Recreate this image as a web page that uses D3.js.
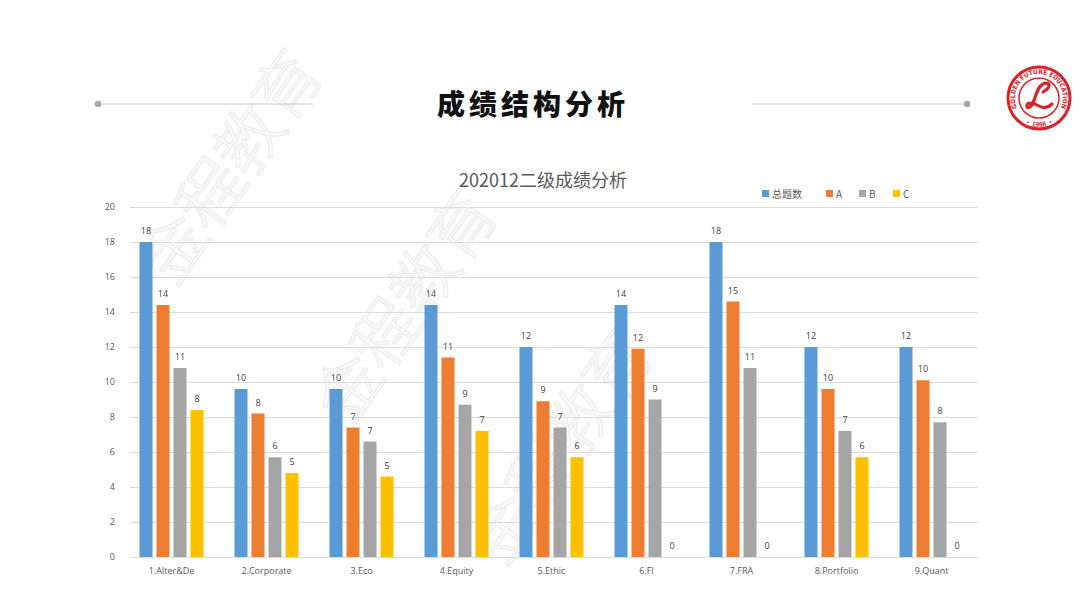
<!DOCTYPE html>
<html>
<head>
<meta charset="utf-8">
<script src="https://cdn.jsdelivr.net/npm/d3@7"></script>
<style>
    body { margin: 0; background: #fff; }
    svg { display: block; font-family: "Noto Sans CJK SC", "Open Sans", sans-serif; }
</style>
</head>
<body>
<div id="chart"></div>
<script>
// chart data
var categories = ["1.Alter&De", "2.Corporate", "3.Eco", "4.Equity", "5.Ethic", "6.FI", "7.FRA", "8.Portfolio", "9.Quant"];
var seriesNames = ["总题数", "A", "B", "C"];
var totalValues = [18, 9.6, 9.6, 14.4, 12, 14.4, 18, 12, 12];
var aValues = [14.4, 8.2, 7.4, 11.4, 8.9, 11.9, 14.6, 9.6, 10.1];
var bValues = [10.8, 5.7, 6.6, 8.7, 7.4, 9, 10.8, 7.2, 7.7];
var cValues = [8.4, 4.8, 4.6, 7.2, 5.7, 0, 0, 5.7, 0];
var yTicks = [0, 2, 4, 6, 8, 10, 12, 14, 16, 18, 20];

var colors = ["#5B9BD5", "#ED7D31", "#A5A5A5", "#FFC000"];
var seriesValues = [totalValues, aValues, bValues, cValues];

var width = 1080, height = 603;

var margin = {
    top: 207,
    right: 101,
    bottom: 46,
    left: 124
};

var svg = d3.select('#chart').append('svg')
    .attr('width', width)
    .attr('height', height);

// faint watermark
var wm = svg.append('g').attr('class', 'watermark');
[[235, 170], [410, 310], [565, 450]].forEach(function (p) {
    wm.append('text')
        .attr('transform', 'translate(' + p[0] + ',' + p[1] + ') rotate(-55)')
        .attr('text-anchor', 'middle')
        .attr('dominant-baseline', 'middle')
        .style('font-size', '66px')
        .style('font-weight', 300)
        .style('fill', 'none')
        .style('stroke', '#f0f0f0')
        .style('stroke-width', 2)
        .text('金程教育');
});

// page header
var header = svg.append('g');
header.append('line')
    .attr('x1', 98).attr('x2', 313).attr('y1', 104).attr('y2', 104)
    .style('stroke', '#c8c8c8').style('stroke-width', 1);
header.append('line')
    .attr('x1', 752).attr('x2', 967).attr('y1', 104).attr('y2', 104)
    .style('stroke', '#c8c8c8').style('stroke-width', 1);
header.append('circle').attr('cx', 98).attr('cy', 104).attr('r', 3.2).style('fill', '#a6a6a6');
header.append('circle').attr('cx', 967).attr('cy', 104).attr('r', 3.2).style('fill', '#a6a6a6');
header.append('text')
    .attr('x', 533).attr('y', 115)
    .attr('text-anchor', 'middle')
    .style('font-size', '28px')
    .style('font-weight', 900)
    .style('letter-spacing', '4px')
    .style('fill', '#111')
    .text('成绩结构分析');

// logo
var logo = svg.append('g').attr('transform', 'translate(1039,98)');
logo.append('circle').attr('r', 31).style('fill', '#fff').style('stroke', '#d7242a').style('stroke-width', 3);
logo.append('circle').attr('r', 20).style('fill', 'none').style('stroke', '#d7242a').style('stroke-width', 1.5);
logo.append('path')
    .attr('id', 'logoArc')
    .attr('d', 'M -18.4,15.4 A 24,24 0 1,1 18.4,15.4')
    .style('fill', 'none');
logo.append('path')
    .attr('id', 'logoArcB')
    .attr('d', 'M -20.5,20.5 A 29,29 0 0,0 20.5,20.5')
    .style('fill', 'none');
logo.append('text')
    .style('font-family', '"Liberation Sans Narrow", "DejaVu Sans Condensed", sans-serif')
    .style('font-size', '6.5px').style('font-weight', 700).style('fill', '#d7242a')
    .append('textPath').attr('href', '#logoArc').attr('startOffset', '50%').attr('text-anchor', 'middle')
    .text('GOLDEN FUTURE EDUCATION');
logo.append('text')
    .style('font-size', '6.5px').style('font-weight', 700).style('fill', '#d7242a')
    .append('textPath').attr('href', '#logoArcB').attr('startOffset', '50%').attr('text-anchor', 'middle')
    .text('• 1998 •');
// script "L" drawn as a stroke
logo.append('path')
    .attr('d', 'M 4,-6 C 14,-12 10,-17 4,-14 C -2,-11 -3,-2 -6,5 C -8,10 -13,11 -12,7 C -11,4 -5,5 0,8 C 5,11 10,9 13,6')
    .style('fill', 'none')
    .style('stroke', '#d7242a')
    .style('stroke-width', 3.2)
    .style('stroke-linecap', 'round');

// chart title
svg.append('text')
    .attr('x', 543).attr('y', 187)
    .attr('text-anchor', 'middle')
    .style('font-size', '18px')
    .style('fill', '#595959')
    .text('202012二级成绩分析');

// legend
var legendX = [762, 826, 859, 893];
var legend = svg.append('g');
seriesNames.forEach(function (name, i) {
    legend.append('rect')
        .attr('x', legendX[i]).attr('y', 190)
        .attr('width', 7).attr('height', 7)
        .style('fill', colors[i]);
    legend.append('text')
        .attr('x', legendX[i] + 10).attr('y', 198)
        .style('font-size', '10px')
        .style('fill', '#595959')
        .text(name);
});

// scales
var plotLeft = margin.left,
    plotRight = width - margin.right,
    plotTop = margin.top,
    plotBottom = height - margin.bottom;

var x0 = d3.scaleBand()
    .domain(categories)
    .range([plotLeft, plotRight])
    .paddingInner(0.326)
    .paddingOuter(0.163);

var x1 = d3.scaleBand()
    .domain(d3.range(seriesNames.length))
    .range([0, x0.bandwidth()])
    .paddingInner(0.235);

var y = d3.scaleLinear()
    .domain([0, 20])
    .range([plotBottom, plotTop]);

// grid
var grid = svg.append('g');
grid.selectAll('line')
    .data(yTicks)
    .enter().append('line')
    .attr('x1', 130).attr('x2', 978)
    .attr('y1', function (d) { return Math.round(y(d)) + 0.5; })
    .attr('y2', function (d) { return Math.round(y(d)) + 0.5; })
    .style('stroke', '#dcdcdc')
    .style('stroke-width', 1);

// y axis labels
var yAxis = svg.append('g')
    .attr('transform', 'translate(115,0)')
    .call(d3.axisLeft(y).tickValues(yTicks).tickSize(0).tickPadding(0));
yAxis.select('.domain').remove();
yAxis.selectAll('text')
    .style('font-family', '"Open Sans", sans-serif')
    .style('font-size', '9px')
    .style('fill', '#595959');

// x axis labels
var xAxis = svg.append('g')
    .attr('transform', 'translate(0,' + (plotBottom + 11) + ')')
    .call(d3.axisBottom(x0).tickSize(0).tickPadding(0));
xAxis.select('.domain').remove();
xAxis.selectAll('text')
    .style('font-family', '"Open Sans", sans-serif')
    .style('font-size', '9px')
    .style('fill', '#595959');

// bars
var groups = svg.append('g').selectAll('g')
    .data(categories)
    .enter().append('g')
    .attr('transform', function (d) { return 'translate(' + x0(d) + ',0)'; });

var fmt = d3.format('.0f');

groups.each(function (cat, ci) {
    var g = d3.select(this);
    seriesValues.forEach(function (vals, si) {
        var v = vals[ci];
        g.append('rect')
            .attr('x', x1(si))
            .attr('y', y(v))
            .attr('width', x1.bandwidth())
            .attr('height', plotBottom - y(v))
            .style('fill', colors[si]);
        g.append('text')
            .attr('x', x1(si) + x1.bandwidth() / 2)
            .attr('y', y(v) - 8)
            .attr('text-anchor', 'middle')
            .style('font-family', '"Open Sans", sans-serif')
            .style('font-size', '9px')
            .style('fill', '#404040')
            .text(fmt(v));
    });
});
</script>
</body>
</html>
